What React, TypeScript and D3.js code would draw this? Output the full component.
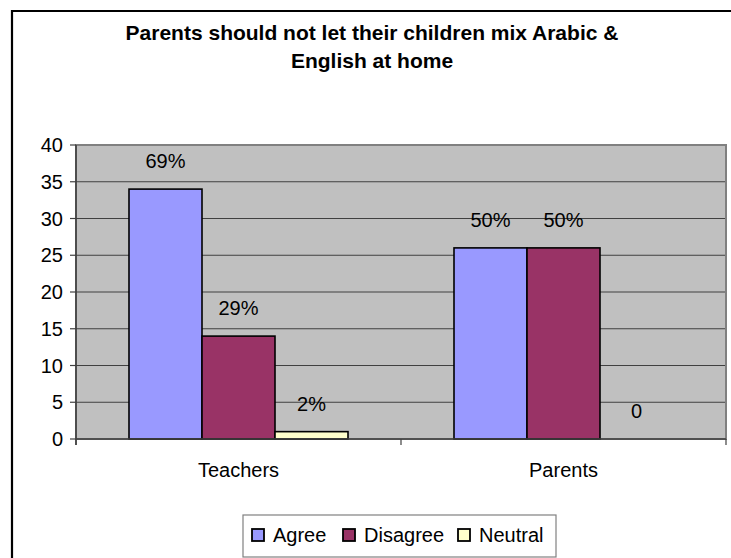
import React from "react";
import * as d3 from "d3";

const categories = ["Teachers", "Parents"];
const seriesNames = ["Agree", "Disagree", "Neutral"];
const seriesColors = ["#9999FF", "#993366", "#FFFFCC"];
const agreeValues = [34, 26];
const disagreeValues = [14, 26];
const neutralValues = [1, 0];
const agreeLabels = ["69%", "50%"];
const disagreeLabels = ["29%", "50%"];
const neutralLabels = ["2%", "0"];
const yTicks = [0, 5, 10, 15, 20, 25, 30, 35, 40];
const titleLines = ["Parents should not let their children mix Arabic &", "English at home"];

const W = 731;
const H = 558;
const FONT = "'Liberation Sans', Arial, sans-serif";
const FS = 20;

export default function App() {
  const left = 76, right = 726, top = 145, bottom = 439;
  const x0 = d3.scaleBand<string>().domain(categories).range([left, right]).paddingInner(0).paddingOuter(0);
  const y = d3.scaleLinear().domain([0, 40]).range([bottom, top]);
  const barW = 73;
  const values = [agreeValues, disagreeValues, neutralValues];
  const labels = [agreeLabels, disagreeLabels, neutralLabels];
  const x1 = d3.scaleBand<string>().domain(seriesNames).range([0, barW * 3]);

  const legendX = 243, legendY = 515;
  const legendItemX = [252, 343, 458];

  return (
    <svg width={W} height={H} style={{ position: "absolute", left: 0, top: 0 }} fontFamily={FONT}>
      <rect x={0} y={0} width={W} height={H} fill="#fff" />
      {/* outer frame */}
      <line x1={11} y1={11} x2={W} y2={11} stroke="#000" strokeWidth={2.2} />
      <line x1={12} y1={10} x2={12} y2={H} stroke="#000" strokeWidth={2.2} />
      {/* title */}
      {titleLines.map((t, i) => (
        <text key={i} x={372} y={40 + i * 28} textAnchor="middle" fontWeight="bold" fontSize={21} fill="#000">{t}</text>
      ))}
      {/* plot area */}
      <rect x={left} y={top} width={right - left} height={bottom - top} fill="#C0C0C0" stroke="#808080" strokeWidth={2} />
      {yTicks.map((t) => (
        <g key={t}>
          {t > 0 && t < 40 && <line x1={left} x2={right - 1} y1={y(t)} y2={y(t)} stroke="#404040" strokeWidth={1.2} />}
          <line x1={left - 6} x2={left} y1={y(t)} y2={y(t)} stroke="#404040" strokeWidth={1.2} />
          <text x={left - 13} y={y(t) + 7} textAnchor="end" fontSize={FS} fill="#000">{t}</text>
        </g>
      ))}
      {/* bars */}
      {categories.map((c, ci) => {
        const cx = x0(c)! + x0.bandwidth() / 2;
        const start = cx - (barW * 3) / 2;
        return (
          <g key={c}>
            {seriesNames.map((s, si) => {
              const v = values[si][ci];
              const bx = start + x1(s)!;
              return (
                <g key={s}>
                  {v > 0 && (
                    <rect x={bx} y={y(v)} width={barW} height={y(0) - y(v)} fill={seriesColors[si]} stroke="#000" strokeWidth={1.6} />
                  )}
                  <text x={bx + barW / 2} y={y(v) - 21} textAnchor="middle" fontSize={FS} fill="#000">{labels[si][ci]}</text>
                </g>
              );
            })}
            <text x={cx} y={477} textAnchor="middle" fontSize={FS} fill="#000">{c}</text>
          </g>
        );
      })}
      {/* axes */}
      <line x1={left} x2={left} y1={top} y2={bottom + 6} stroke="#404040" strokeWidth={1.6} />
      <line x1={left} x2={right} y1={bottom} y2={bottom} stroke="#404040" strokeWidth={1.6} />
      {[left, x0("Parents")!, right].map((xx, i) => (
        <line key={i} x1={xx} x2={xx} y1={bottom} y2={bottom + 6} stroke="#404040" strokeWidth={1.2} />
      ))}
      {/* legend */}
      <rect x={legendX} y={legendY} width={313} height={42} fill="#fff" stroke="#808080" strokeWidth={1.2} />
      {seriesNames.map((s, i) => (
        <g key={s}>
          <rect x={legendItemX[i]} y={529} width={12} height={12} fill={seriesColors[i]} stroke="#000" strokeWidth={1.8} />
          <text x={legendItemX[i] + 21} y={542} fontSize={FS} fill="#000">{s}</text>
        </g>
      ))}
    </svg>
  );
}
